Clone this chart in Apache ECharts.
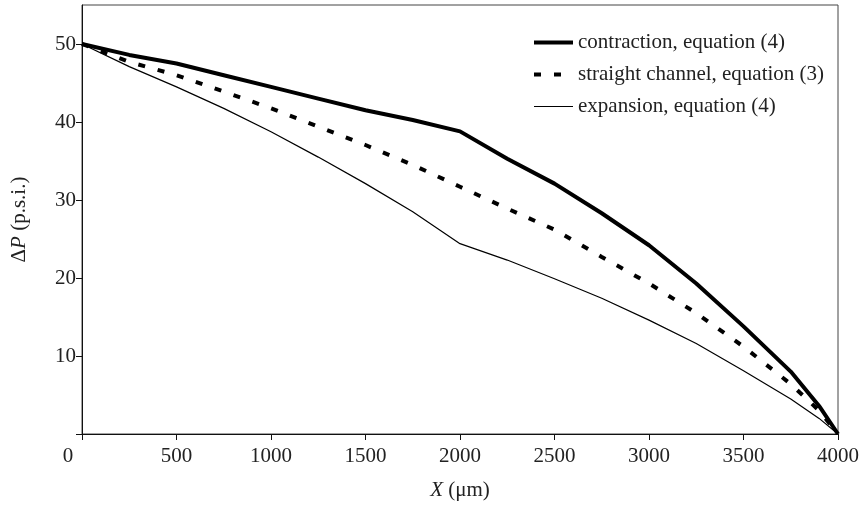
<!DOCTYPE html>
<html lang="en">
<head>
    <meta charset="UTF-8">
    <title>Pressure drop along channel</title>
    <script src="https://cdnjs.cloudflare.com/ajax/libs/echarts/6.0.0/echarts.min.js"></script>
    <style>
        body { margin: 0; padding: 0; background: #fff; }
        #main { width: 865px; height: 506px; }
    </style>
</head>
<body>
    <div id="main"></div>
    <script>
        // positions along the channel (um)
        const xs = [0, 250, 500, 750, 1000, 1250, 1500, 1750, 2000, 2250, 2500, 2750, 3000, 3250, 3500, 3750, 3900, 4000];
        // pressure drop (p.s.i.)
        const contraction = [50, 48.6, 47.5, 46.0, 44.5, 43.0, 41.5, 40.25, 38.8, 35.3, 32.1, 28.3, 24.2, 19.3, 13.8, 8.0, 3.6, 0];
        const straight = [50, 47.7, 46.0, 43.9, 41.75, 39.4, 37.05, 34.5, 31.7, 28.9, 26.2, 22.7, 19.3, 15.5, 11.2, 6.4, 3.0, 0];
        const expansion = [50, 47.1, 44.5, 41.75, 38.75, 35.5, 32.1, 28.5, 24.4, 22.3, 19.9, 17.4, 14.6, 11.6, 8.1, 4.5, 2.0, 0];
        const xTicks = [0, 500, 1000, 1500, 2000, 2500, 3000, 3500, 4000];
        const yTicks = [0, 10, 20, 30, 40, 50];
        const yLabels = [10, 20, 30, 40, 50];
        const names = ['contraction, equation (4)', 'straight channel, equation (3)', 'expansion, equation (4)'];

        const font = "'Liberation Serif', 'DejaVu Serif', serif";
        const fs = 21;
        const pair = (vals) => xs.map((x, i) => [x, vals[i]]);
        const thick = { color: '#000', width: 4 };
        const dashed = { color: '#000', width: 4, type: [7, 13] };
        const thin = { color: '#000', width: 1.2 };

        const chart = echarts.init(document.getElementById('main'));
        chart.setOption({
            animation: false,
            textStyle: { fontFamily: font, color: '#222' },
            grid: { left: 82, right: 27, top: 5, bottom: 72, show: true, borderColor: '#444', borderWidth: 1 },
            legend: {
                orient: 'vertical', left: 527, top: 27, itemWidth: 39, itemHeight: 14, itemGap: 11,
                data: [
                    { name: names[0], lineStyle: thick },
                    { name: names[1], lineStyle: dashed },
                    { name: names[2], lineStyle: thin }
                ],
                itemStyle: { opacity: 0 },
                textStyle: { fontFamily: font, fontSize: fs, color: '#222' }
            },
            xAxis: {
                type: 'value', min: 0, max: 4000, interval: 500,
                name: '{i|X} (\u03bcm)', nameLocation: 'middle', nameGap: 46,
                nameTextStyle: { fontFamily: font, fontSize: fs, color: '#222',
                    rich: { i: { fontFamily: font, fontSize: fs, fontStyle: 'italic', color: '#222' } } },
                axisLine: { lineStyle: { color: '#111', width: 1 } },
                axisTick: { show: true, length: 6, lineStyle: { color: '#111' }, customValues: xTicks },
                axisLabel: {
                    fontFamily: font, fontSize: fs, color: '#222', margin: 12, customValues: xTicks,
                    formatter: v => v === 0 ? '{z|0}' : String(v),
                    rich: { z: { fontFamily: font, fontSize: fs, color: '#222', padding: [0, 28, 0, 0] } }
                },
                splitLine: { show: false }
            },
            yAxis: {
                type: 'value', min: 0, max: 55, interval: 10,
                name: '\u0394{i|P} (p.s.i.)', nameLocation: 'middle', nameGap: 52,
                nameTextStyle: { fontFamily: font, fontSize: fs, color: '#222',
                    rich: { i: { fontFamily: font, fontSize: fs, fontStyle: 'italic', color: '#222' } } },
                axisLine: { show: true, lineStyle: { color: '#111', width: 1 } },
                axisTick: { show: true, length: 6, lineStyle: { color: '#111' }, customValues: yTicks },
                axisLabel: { fontFamily: font, fontSize: fs, color: '#222', margin: 6, customValues: yLabels },
                splitLine: { show: false }
            },
            series: [
                { name: names[0], type: 'line', data: pair(contraction), symbol: 'none',
                  lineStyle: thick, itemStyle: { color: '#000' } },
                { name: names[1], type: 'line', data: pair(straight), symbol: 'none',
                  lineStyle: dashed, itemStyle: { color: '#000' } },
                { name: names[2], type: 'line', data: pair(expansion), symbol: 'none',
                  lineStyle: thin, itemStyle: { color: '#000' } }
            ]
        });
    </script>
</body>
</html>
